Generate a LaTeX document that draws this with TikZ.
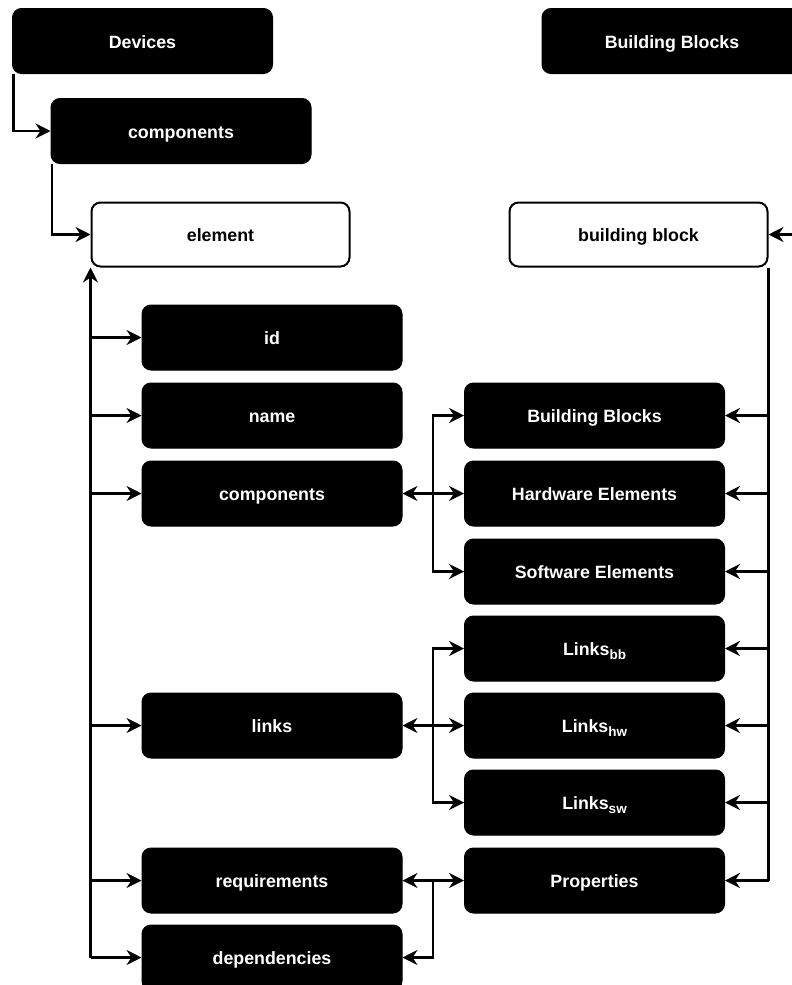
\documentclass[tikz,border=0pt]{standalone}
\usepackage{fontspec}
\setmainfont{Liberation Sans}
\usetikzlibrary{arrows.meta}
\newcommand{\lsub}[1]{\raisebox{-4pt}{\fontsize{13.5}{15}\selectfont #1}}
\begin{document}
\begin{tikzpicture}[x=1pt,y=-1pt,
  blk/.style={draw=black, fill=black, text=white, rounded corners=9pt,
    minimum width=260pt, minimum height=65pt, inner sep=0pt, line width=1pt,
    text height=18pt, text depth=3.4pt,
    font=\fontsize{17.8}{20}\selectfont\bfseries},
  wht/.style={blk, fill=white, text=black, line width=2pt, minimum width=258pt, minimum height=64pt},
  conn/.style={line width=2.2pt, -{Stealth[length=15pt,width=15pt,inset=5pt]}},
  ln/.style={line width=2.2pt},
]
\useasboundingbox (0,0) rectangle (792,985);

% top level
\node[blk] (devices) at (142.5,41) {Devices};
\node[blk] (bbtop) at (672,41) {Building Blocks};
\node[blk] (comp0) at (181,131) {components};
\node[wht] (element) at (220.5,234.5) {element};
\node[wht] (bblock) at (638.5,234.5) {building block};

% left column
\node[blk] (id) at (272,337.5) {id};
\node[blk] (name) at (272,415.5) {name};
\node[blk] (comp) at (272,493.5) {components};
\node[blk] (links) at (272,725.5) {links};
\node[blk] (req) at (272,880.5) {requirements};
\node[blk] (deps) at (272,957.5) {dependencies};

% right column
\node[blk] (bbk) at (594.5,415.5) {Building Blocks};
\node[blk] (hw) at (594.5,493.5) {Hardware Elements};
\node[blk] (sw) at (594.5,571.5) {Software Elements};
\node[blk] (lbb) at (594.5,648.5) {Links\lsub{bb}};
\node[blk] (lhw) at (594.5,725.5) {Links\lsub{hw}};
\node[blk] (lsw) at (594.5,802.5) {Links\lsub{sw}};
\node[blk] (props) at (594.5,880.5) {Properties};

\coordinate (mx) at (433,0);
\coordinate (edge) at (800,234.5);

% top connectors
\draw[conn] ([xshift=1.5pt]devices.south west) |- (comp0.west);
\draw[conn] ([xshift=1.5pt]comp0.south west) |- (element.west);
\draw[conn] (edge) -- (bblock.east);

% left spine
\draw[conn] (element.south west |- deps.west) -- (element.south west);
\foreach \n in {id,name,comp,links,req,deps}
  \draw[conn] (element.south west |- \n.west) -- (\n.west);

% right spine
\draw[ln] (bblock.south east) -- (bblock.south east |- props.east);
\foreach \n in {bbk,hw,sw,lbb,lhw,lsw,props}
  \draw[conn] (bblock.south east |- \n.east) -- (\n.east);

% middle connectors
\draw[conn] (mx |- comp.east) -- (comp.east);
\draw[conn] (mx |- comp.east) -- (hw.west);
\draw[conn] (mx |- comp.east) |- (bbk.west);
\draw[conn] (mx |- comp.east) |- (sw.west);

\draw[conn] (mx |- links.east) -- (links.east);
\draw[conn] (mx |- links.east) -- (lhw.west);
\draw[conn] (mx |- links.east) |- (lbb.west);
\draw[conn] (mx |- links.east) |- (lsw.west);

\draw[conn] (mx |- req.east) -- (req.east);
\draw[conn] (mx |- req.east) -- (props.west);
\draw[conn] (mx |- req.east) |- (deps.east);
\end{tikzpicture}
\end{document}
